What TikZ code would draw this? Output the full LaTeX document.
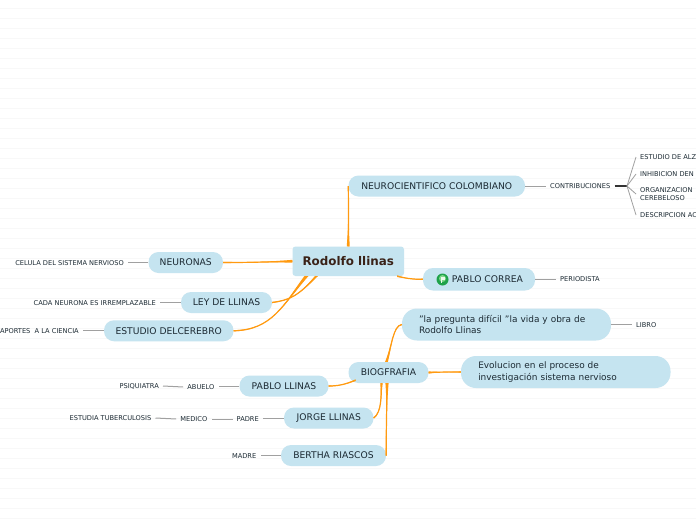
\documentclass[tikz,border=0pt]{standalone}
\usepackage{fontspec}
\setmainfont{DejaVu Sans}
\usetikzlibrary{calc}
\definecolor{pill}{HTML}{C5E4F0}
\definecolor{ink}{HTML}{1C2A33}
\definecolor{rootink}{HTML}{3A2218}
\definecolor{branch}{HTML}{FF9A10}
\definecolor{rule}{HTML}{F8F8F8}
\definecolor{twig}{HTML}{A0A0A0}
\definecolor{flagdark}{HTML}{1FA24A}
\definecolor{flaglight}{HTML}{7FD88A}
\tikzset{
  x=1pt,y=-1pt,
  pillbox/.style={fill=pill,rounded corners=10pt,inner sep=0pt,text=ink,font=\fontsize{9.2}{11}\selectfont,minimum height=21pt,align=left},
  bigpill/.style={pillbox,rounded corners=15pt,minimum height=32pt,text width=#1,font=\fontsize{8.95}{11.5}\selectfont},
  rootbox/.style={fill=pill,rounded corners=3pt,inner sep=0pt,minimum width=111.5pt,minimum height=29.5pt,text=rootink,font=\fontsize{11.9}{14}\selectfont\bfseries},
  lab/.style={inner xsep=4pt,inner ysep=0pt,text=ink,font=\fontsize{6.65}{8}\selectfont,anchor=west,align=left},
  twigline/.style={draw=twig,line width=1pt},
  hubline/.style={draw=black!80,line width=1.2pt},
  branchfill/.style={fill=branch,draw=none},
  branchline/.style={draw=branch,line width=1.2pt}
}
% tapered branch: start, offset at start, control 1, control 2, end, offset at end
\newcommand{\taper}[6]{\fill[branchfill] ($#1+#2$) .. controls #3 and #4 .. ($#5+#6$) -- ($#5-#6$) .. controls #4 and #3 .. ($#1-#2$) -- cycle;
  \draw[branchline] #1 .. controls #3 and #4 .. #5;}
\begin{document}
\begin{tikzpicture}
\useasboundingbox (0,0) rectangle (696,520);
\clip (0,0) rectangle (696,520);
\fill[white] (0,0) rectangle (696,520);
\foreach \y in {8.5,18.5,...,518.5} \draw[rule,line width=.9pt] (0,\y) -- (696,\y);

\node[pillbox,minimum width=176.5pt] (neuro) at (436.75,186) {NEUROCIENTIFICO COLOMBIANO};
\node[pillbox,minimum width=112pt,minimum height=22.5pt] (correa) at (479,279.25) {\hspace*{17pt}PABLO CORREA};
\node[pillbox,minimum width=74.5pt] (neuronas) at (185.75,262.5) {NEURONAS};
\node[pillbox,minimum width=91pt] (ley) at (226.5,302.5) {LEY DE LLINAS};
\node[pillbox,minimum width=129.5pt] (estudio) at (168.75,330.75) {ESTUDIO DELCEREBRO};
\node[pillbox,minimum width=80pt] (bio) at (388.5,372.5) {BIOGFRAFIA};
\node[pillbox,minimum width=89pt] (pablo) at (284,386) {PABLO LLINAS};
\node[pillbox,minimum width=89.5pt] (jorge) at (328.75,418) {JORGE LLINAS};
\node[pillbox,minimum width=105pt] (bertha) at (333.5,455.5) {BERTHA RIASCOS};
\node[bigpill=175pt,minimum width=209pt] (libro) at (506.5,324.5) {"la pregunta difícil "la vida y obra de\\Rodolfo Llinas};
\node[bigpill=175pt,minimum width=209.5pt] (evol) at (565.75,372) {Evolucion en el proceso de\\investigación sistema nervioso};
\node[rootbox] (root) at (348.25,261.25) {Rodolfo llinas};

\fill[flagdark] (442.5,279.5) circle (6pt);
\fill[flaglight] (442.5,278.5) circle (3.5pt);
\fill[white!85!flaglight] (440.5,277) rectangle (445,280);
\fill[white!85!flaglight] (440.5,277) rectangle (441.5,283);

\node[lab] (contrib) at (546,186.5) {CONTRIBUCIONES};
\node[lab] (periodista) at (556,279) {PERIODISTA};
\node[lab] (librolab) at (632,325) {LIBRO};
\node[lab,anchor=east] (celula) at (128,263) {CELULA DEL SISTEMA NERVIOSO};
\node[lab,anchor=east] (cada) at (160,303) {CADA NEURONA ES IRREMPLAZABLE};
\node[lab,anchor=east] (aportes) at (83,331) {APORTES\ \ A LA CIENCIA};
\node[lab,anchor=east] (abuelo) at (218.5,387) {ABUELO};
\node[lab,anchor=east] (psi) at (163,386) {PSIQUIATRA};
\node[lab,anchor=east] (padre) at (263,419) {PADRE};
\node[lab,anchor=east] (medico) at (211.5,419) {MEDICO};
\node[lab,anchor=east] (tuber) at (155.5,418) {ESTUDIA TUBERCULOSIS};
\node[lab,anchor=east] (madre) at (260.5,456) {MADRE};
\node[lab] (alz) at (636,157) {ESTUDIO DE ALZ};
\node[lab] (inh) at (636,174) {INHIBICION DEN};
\node[lab] (org) at (636,194) {ORGANIZACION\\CEREBELOSO};
\node[lab] (desc) at (636,215) {DESCRIPCION AC};
\coordinate (hub) at (627,186);

\draw[twigline] (neuro.east) -- (neuro.east -| contrib.west);
\draw[twigline] (correa.east) -- (correa.east -| periodista.west);
\draw[twigline] (libro.east) -- (libro.east -| librolab.west);
\draw[twigline] (neuronas.west) -- (neuronas.west -| celula.east);
\draw[twigline] (ley.west) -- (ley.west -| cada.east);
\draw[twigline] (estudio.west) -- (estudio.west -| aportes.east);
\draw[twigline] (pablo.west) -- (pablo.west -| abuelo.east);
\draw[twigline] (abuelo.west) -- (psi.east);
\draw[twigline] (jorge.west) -- (jorge.west -| padre.east);
\draw[twigline] (padre.west) -- (medico.east);
\draw[twigline] (medico.west) -- (tuber.east);
\draw[twigline] (bertha.west) -- (bertha.west -| madre.east);
\draw[hubline] (contrib.east |- hub) -- (hub);
\draw[twigline,line width=.8pt] (hub) -- (alz.west);
\draw[twigline,line width=.8pt] (hub) -- (inh.west);
\draw[twigline,line width=.8pt] (hub) -- (org.west);
\draw[twigline,line width=.8pt] (hub) -- (desc.west);

\taper{(root.north)}{(1.5,0)}{(348.5,225)}{(348.5,205)}{(neuro.west)}{(.5,0)}
\taper{($(root.south east)+(-7,0)$)}{(0,.8)}{(405,278)}{(412,279.5)}{(correa.west)}{(0,.6)}
\taper{(root.west)}{(0,1.4)}{(265,262)}{(250,262.5)}{(neuronas.east)}{(0,.7)}
\taper{($(root.south west)+(24,0)$)}{(1.5,0)}{(298,296)}{(290,300)}{(ley.east)}{(0,.6)}
\taper{($(root.south west)+(14,0)$)}{(2,0)}{(283,305)}{(272,330)}{(estudio.east)}{(0,.6)}
\taper{(bio.east)}{(0,1.1)}{(440,372)}{(450,372)}{(evol.west)}{(0,.6)}
\taper{($(bio.south)+(-33,-3)$)}{(0,.8)}{(345,384.5)}{(338,386)}{(pablo.east)}{(0,.6)}
\taper{($(bio.south)+(-1.5,0)$)}{(1.6,0)}{(387,400)}{(386,435)}{(bertha.east)}{(.6,0)}
\taper{($(bio.south)+(-7,0)$)}{(1.2,0)}{(381,395)}{(382,412)}{(jorge.east)}{(.4,.4)}
\taper{($(bio.north)+(-2,0)$)}{(1.4,0)}{(392,345)}{(393,326)}{(libro.west)}{(.4,.4)}
\end{tikzpicture}
\end{document}
